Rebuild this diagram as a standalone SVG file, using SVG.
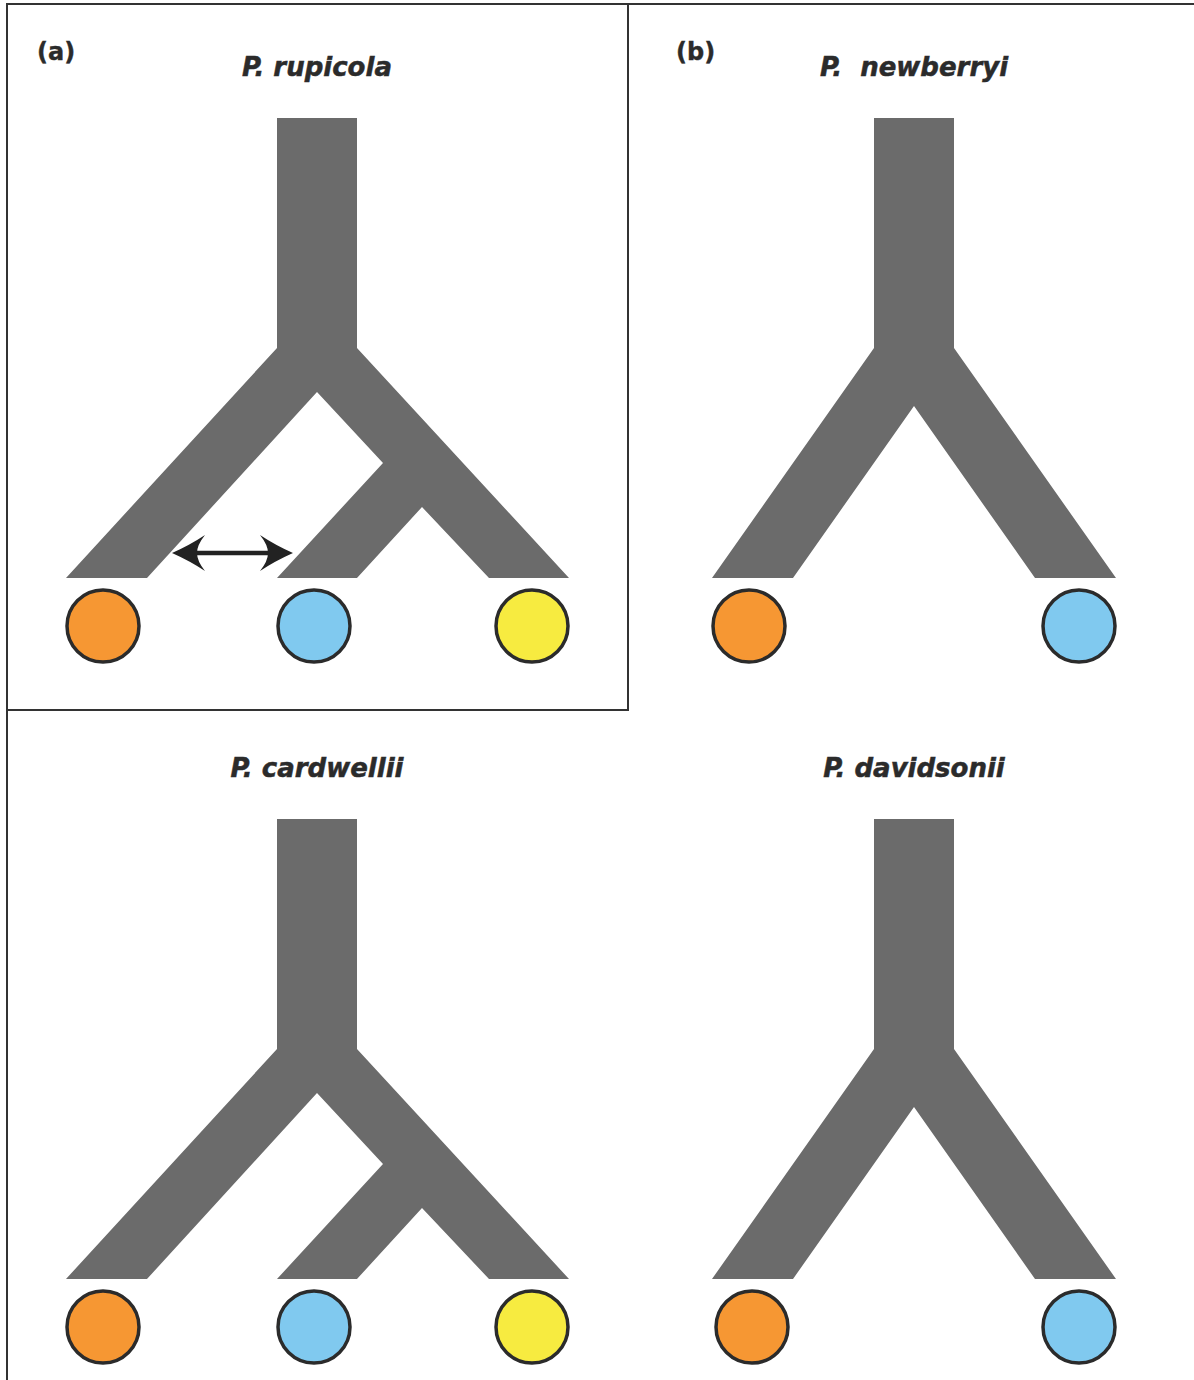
<svg xmlns="http://www.w3.org/2000/svg" width="1194" height="1380" viewBox="0 0 1194 1380">
<style>
.frame{fill:none;stroke:#333;stroke-width:2}
.tree{fill:#6b6b6b}
.leaf{stroke:#2b2b2b;stroke-width:3.5}
.or{fill:#f69733}
.bl{fill:#80c9ef}
.ye{fill:#f7eb40}
.lbl{font-family:"DejaVu Sans",sans-serif;font-weight:bold;font-size:24px;fill:#2b2b2b;stroke:#2b2b2b;stroke-width:0.4}
.sp{font-family:"DejaVu Sans",sans-serif;font-weight:bold;font-style:italic;font-size:26px;fill:#2b2b2b;stroke:#2b2b2b;stroke-width:0.5;text-anchor:middle}
.arr{fill:#222}
</style>
<defs>
<path id="t3" d="M277,118 L357,118 L357,348 L569,578 L489,578 L422,507 L357,578 L277,578 L383,463 L317,392 L147,578 L66,578 L277,348 Z"/>
<path id="t2" d="M874,118 L954,118 L954,348 L1116,578 L1035,578 L914,406 L793,578 L712,578 L874,348 Z"/>
</defs>
<rect width="1194" height="1380" fill="#fff"/>
<g id="frame">
<path class="frame" d="M6,4 L1194,4 M7,4 L7,1380 M628,4 L628,710 L7,710"/>
</g>
<g id="panel-a">
<text class="lbl" x="37" y="60">(a)</text>
<text class="sp" x="317" y="76">P. rupicola</text>
<use id="tree-a" class="tree" href="#t3"/>
<circle id="a-orange" class="leaf or" cx="103" cy="626" r="36"/>
<circle id="a-blue" class="leaf bl" cx="314" cy="626" r="36"/>
<circle id="a-yellow" class="leaf ye" cx="532" cy="626" r="36"/>
</g>
<g id="panel-b">
<text class="lbl" x="676" y="60">(b)</text>
<text class="sp" x="914" y="76" xml:space="preserve">P.  newberryi</text>
<use id="tree-b" class="tree" href="#t2"/>
<circle id="b-orange" class="leaf or" cx="749" cy="626" r="36"/>
<circle id="b-blue" class="leaf bl" cx="1079" cy="626" r="36"/>
</g>
<g id="panel-c">
<text class="sp" x="317" y="777">P. cardwellii</text>
<use id="tree-c" class="tree" href="#t3" transform="translate(0,701)"/>
<circle id="c-orange" class="leaf or" cx="103" cy="1327" r="36"/>
<circle id="c-blue" class="leaf bl" cx="314" cy="1327" r="36"/>
<circle id="c-yellow" class="leaf ye" cx="532" cy="1327" r="36"/>
</g>
<g id="panel-d">
<text class="sp" x="914" y="777">P. davidsonii</text>
<use id="tree-d" class="tree" href="#t2" transform="translate(0,701)"/>
<circle id="d-orange" class="leaf or" cx="752" cy="1327" r="36"/>
<circle id="d-blue" class="leaf bl" cx="1079" cy="1327" r="36"/>
</g>
<g id="connectors">
<line x1="195" y1="553" x2="270" y2="553" stroke="#222" stroke-width="4.5"/>
<path class="arr" d="M172,553 Q190,545 205,535 Q197,545 197,553 Q197,561 205,571 Q190,561 172,553 Z"/>
<path class="arr" d="M293,553 Q275,545 260,535 Q268,545 268,553 Q268,561 260,571 Q275,561 293,553 Z"/>
</g>
</svg>
